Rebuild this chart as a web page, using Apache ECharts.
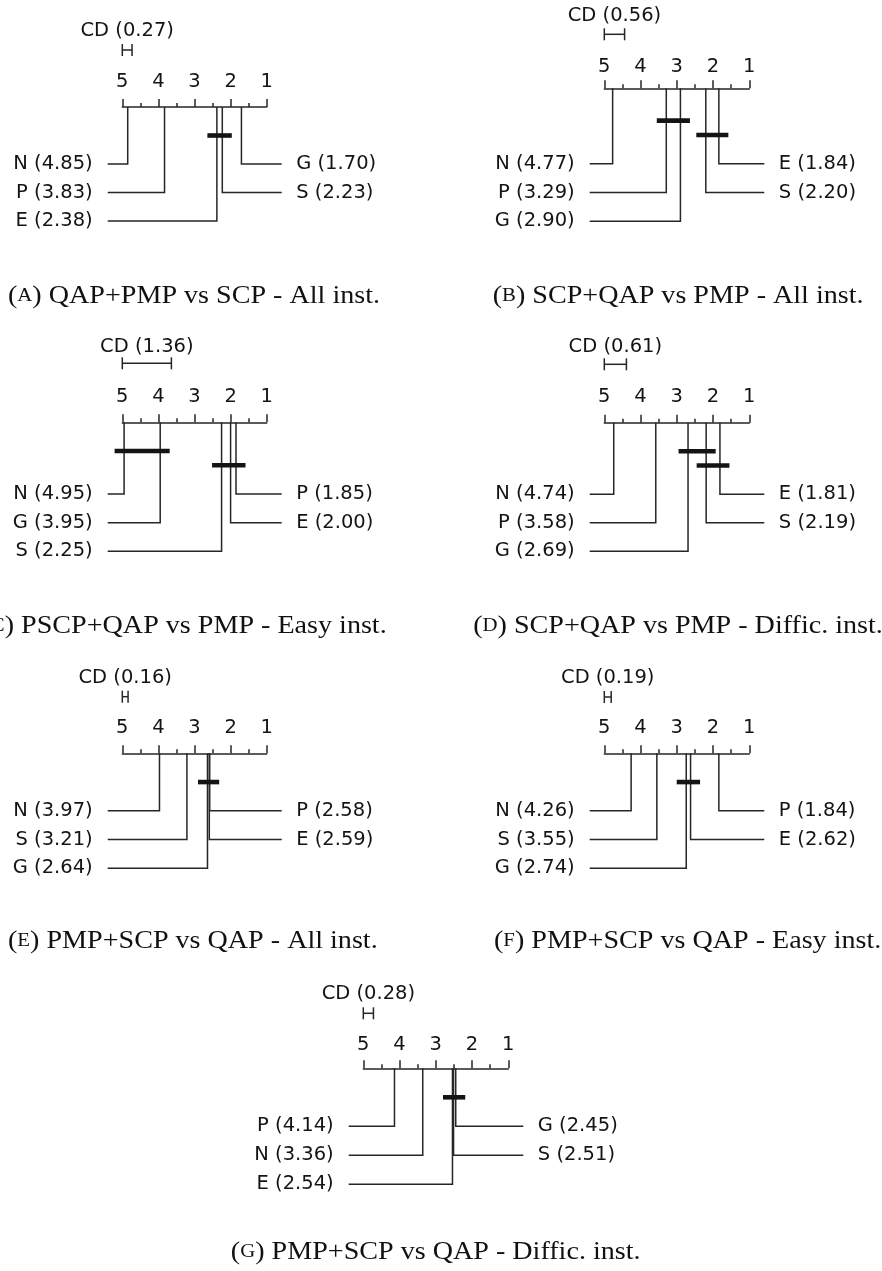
<!DOCTYPE html>
<html>
<head>
<meta charset="utf-8">
<script src="https://cdn.jsdelivr.net/npm/echarts@6/dist/echarts.min.js"></script>
<style>
  html, body { margin: 0; padding: 0; background: #fff; }
  #chart { width: 882px; height: 1271px; }
</style>
</head>
<body>
<div id="chart"></div>
<script>
const rankTicks = [1, 2, 3, 4, 5]

// (a)
const namesA = ["N", "P", "E", "G", "S"]
const ranksA = [4.85, 3.83, 2.38, 1.70, 2.23]
const cdA = 0.27
const cliquesA = [["E", "S"]]

// (b)
const namesB = ["N", "P", "G", "E", "S"]
const ranksB = [4.77, 3.29, 2.90, 1.84, 2.20]
const cdB = 0.56
const cliquesB = [["P", "G"], ["S", "E"]]

// (c)
const namesC = ["N", "G", "S", "P", "E"]
const ranksC = [4.95, 3.95, 2.25, 1.85, 2.00]
const cdC = 1.36
const cliquesC = [["N", "G"], ["S", "E", "P"]]

// (d)
const namesD = ["N", "P", "G", "E", "S"]
const ranksD = [4.74, 3.58, 2.69, 1.81, 2.19]
const cdD = 0.61
const cliquesD = [["G", "S"], ["S", "E"]]

// (e)
const namesE = ["N", "S", "G", "P", "E"]
const ranksE = [3.97, 3.21, 2.64, 2.58, 2.59]
const cdE = 0.16
const cliquesE = [["G", "E", "P"]]

// (f)
const namesF = ["N", "S", "G", "P", "E"]
const ranksF = [4.26, 3.55, 2.74, 1.84, 2.62]
const cdF = 0.19
const cliquesF = [["G", "E"]]

// (g)
const namesG = ["P", "N", "E", "G", "S"]
const ranksG = [4.14, 3.36, 2.54, 2.45, 2.51]
const cdG = 0.28
const cliquesG = [["E", "S", "G"]]

const captionLetters = ["A", "B", "C", "D", "E", "F", "G"]
const captionTexts = [
  "QAP+PMP vs SCP - All inst.",
  "SCP+QAP vs PMP - All inst.",
  "PSCP+QAP vs PMP - Easy inst.",
  "SCP+QAP vs PMP - Diffic. inst.",
  "PMP+SCP vs QAP - All inst.",
  "PMP+SCP vs QAP - Easy inst.",
  "PMP+SCP vs QAP - Diffic. inst.",
]

const panelsData = [
  { names: namesA, ranks: ranksA, cd: cdA, cliques: cliquesA },
  { names: namesB, ranks: ranksB, cd: cdB, cliques: cliquesB },
  { names: namesC, ranks: ranksC, cd: cdC, cliques: cliquesC },
  { names: namesD, ranks: ranksD, cd: cdD, cliques: cliquesD },
  { names: namesE, ranks: ranksE, cd: cdE, cliques: cliquesE },
  { names: namesF, ranks: ranksF, cd: cdF, cliques: cliquesF },
  { names: namesG, ranks: ranksG, cd: cdG, cliques: cliquesG },
]

// pixel layout of every small diagram (x of rank 5 / rank 1, axis line, last row)
const layout = [
  { x5: 122.3, x1: 266.7, axisY: 107, lastY: 221, axisLevel: -4, tickOff: 25, cdBarOff: 57, cdTextOff: 76, capX: 8, capY: 296, capAlign: "left" },
  { x5: 604.3, x1: 749.3, axisY: 88.3, lastY: 221.3, axisLevel: -5.25, tickOff: 21.3, cdBarOff: 54, cdTextOff: 72.3, capX: 492.7, capY: 296, capAlign: "left" },
  { x5: 122.3, x1: 266.7, axisY: 422.3, lastY: 551.3, axisLevel: -5, tickOff: 25, cdBarOff: 59, cdTextOff: 75.6, capX: 386.7, capY: 626, capAlign: "right" },
  { x5: 604.3, x1: 749.3, axisY: 422.7, lastY: 551.3, axisLevel: -5, tickOff: 25.4, cdBarOff: 58.4, cdTextOff: 76, capX: 678, capY: 626, capAlign: "center" },
  { x5: 122.3, x1: 266.7, axisY: 753.3, lastY: 868.3, axisLevel: -4, tickOff: 25, cdBarOff: 56.6, cdTextOff: 75.6, capX: 8, capY: 941, capAlign: "left" },
  { x5: 604.3, x1: 749.3, axisY: 753.3, lastY: 868.3, axisLevel: -4, tickOff: 25, cdBarOff: 56.3, cdTextOff: 75.6, capX: 494, capY: 941, capAlign: "left" },
  { x5: 363.3, x1: 508.3, axisY: 1068.3, lastY: 1184.3, axisLevel: -4, tickOff: 23.3, cdBarOff: 55, cdTextOff: 74, capX: 435.7, capY: 1252, capAlign: "center" },
]

const rankMin = rankTicks[0]
const rankMax = rankTicks[rankTicks.length - 1]
const ink = "#141414"
const lineInk = "#262626"
const lineW = 1.5
const sansFont = "DejaVu Sans"
const labelSize = 19.5
const serifFont = "Liberation Serif"
const capSize = 25
const capSmall = 18.5

// stretch the serif caption to the width of the LaTeX caption
const ctx = document.createElement("canvas").getContext("2d")
ctx.font = capSize + 'px "' + serifFont + '"'
let capWidth = ctx.measureText("(").width + ctx.measureText(") " + captionTexts[0]).width
ctx.font = capSmall + 'px "' + serifFont + '"'
capWidth += ctx.measureText(captionLetters[0]).width
const capScale = 372 / capWidth

const grids = []
const xAxes = []
const yAxes = []
const series = []

panelsData.forEach((panel, i) => {
  const lay = layout[i]
  grids.push({
    left: lay.x5,
    top: lay.axisY,
    width: lay.x1 - lay.x5,
    height: lay.lastY - lay.axisY,
  })
  xAxes.push({
    gridIndex: i,
    type: "value",
    min: rankMin,
    max: rankMax,
    interval: 1,
    inverse: true,
    position: "top",
    axisLine: { show: true, onZero: false, lineStyle: { color: lineInk, width: lineW } },
    axisTick: { show: true, length: 8, lineStyle: { color: lineInk, width: lineW } },
    minorTick: { show: true, splitNumber: 2, length: 4, lineStyle: { color: lineInk, width: lineW } },
    axisLabel: {
      show: true,
      margin: lay.tickOff - labelSize / 2,
      fontSize: labelSize,
      fontFamily: sansFont,
      color: ink,
    },
    splitLine: { show: false },
    minorSplitLine: { show: false },
  })
  yAxes.push({
    gridIndex: i,
    type: "value",
    min: lay.axisLevel,
    max: 4,
    inverse: true,
    show: false,
  })

  // left half: worst ranks, right half: best ranks (best on top)
  const order = panel.names.map((n, k) => k).sort((a, b) => panel.ranks[b] - panel.ranks[a])
  const nLeft = Math.ceil(order.length / 2)
  const methodData = order.map((k, pos) => {
    const left = pos < nLeft
    const row = left ? pos : order.length - 1 - pos
    return [panel.ranks[k], row * 2, left ? 0 : 1, k]
  })

  series.push({
    type: "custom",
    xAxisIndex: i,
    yAxisIndex: i,
    clip: false,
    silent: true,
    data: methodData,
    renderItem: (params, api) => {
      const rank = api.value(0)
      const level = api.value(1)
      const side = api.value(2)
      const k = api.value(3)
      const top = api.coord([rank, lay.axisLevel])
      const bend = api.coord([rank, level])
      const edge = side === 0
        ? api.coord([rankMax, level])[0] - 14.6
        : api.coord([rankMin, level])[0] + 15
      return {
        type: "group",
        children: [
          {
            type: "polyline",
            shape: { points: [top, bend, [edge, bend[1]]] },
            style: { stroke: lineInk, lineWidth: lineW, fill: null },
          },
          {
            type: "text",
            x: side === 0 ? edge - 15 : edge + 14.5,
            y: bend[1],
            style: {
              text: panel.names[k] + " (" + panel.ranks[k].toFixed(2) + ")",
              fontSize: labelSize,
              fontFamily: sansFont,
              fill: ink,
              align: side === 0 ? "right" : "left",
              verticalAlign: "middle",
            },
          },
        ],
      }
    },
  })

  const cliqueData = panel.cliques.map((members, j) => {
    const vals = members.map((m) => panel.ranks[panel.names.indexOf(m)])
    return [Math.max(...vals), -(1 + panel.cliques.length - j), Math.min(...vals)]
  })

  series.push({
    type: "custom",
    xAxisIndex: i,
    yAxisIndex: i,
    clip: false,
    silent: true,
    data: cliqueData,
    renderItem: (params, api) => {
      const a = api.coord([api.value(0), api.value(1)])
      const b = api.coord([api.value(2), api.value(1)])
      return {
        type: "rect",
        shape: { x: a[0] - 9.5, y: a[1] - 2.3, width: b[0] - a[0] + 19, height: 4.6 },
        style: { fill: ink },
      }
    },
  })

  series.push({
    type: "custom",
    xAxisIndex: i,
    yAxisIndex: i,
    clip: false,
    silent: true,
    data: [[rankMax - panel.cd, lay.axisLevel, panel.cd]],
    renderItem: (params, api) => {
      const a = api.coord([rankMax, api.value(1)])
      const b = api.coord([api.value(0), api.value(1)])
      const y = a[1] - lay.cdBarOff
      const lineStyle = { stroke: lineInk, lineWidth: lineW }
      return {
        type: "group",
        children: [
          { type: "line", shape: { x1: a[0], y1: y, x2: b[0], y2: y }, style: lineStyle },
          { type: "line", shape: { x1: a[0], y1: y - 6, x2: a[0], y2: y + 6 }, style: lineStyle },
          { type: "line", shape: { x1: b[0], y1: y - 6, x2: b[0], y2: y + 6 }, style: lineStyle },
          {
            type: "text",
            x: (a[0] + b[0]) / 2,
            y: a[1] - lay.cdTextOff,
            style: {
              text: "CD (" + api.value(2).toFixed(2) + ")",
              fontSize: labelSize,
              fontFamily: sansFont,
              fill: ink,
              align: "center",
              verticalAlign: "middle",
            },
          },
        ],
      }
    },
  })
})

const captions = captionTexts.map((text, i) => {
  const lay = layout[i]
  return {
    type: "text",
    x: lay.capX,
    y: lay.capY,
    scaleX: capScale,
    silent: true,
    style: {
      text: "{p|(}{s|" + captionLetters[i] + "}{p|) " + text + "}",
      fill: "#111",
      align: lay.capAlign,
      verticalAlign: "middle",
      rich: {
        p: { fontSize: capSize, fontFamily: serifFont, fill: "#111" },
        s: { fontSize: capSmall, fontFamily: serifFont, fill: "#111" },
      },
    },
  }
})

const chart = echarts.init(document.getElementById("chart"))
chart.setOption({
  animation: false,
  backgroundColor: "#fff",
  grid: grids,
  xAxis: xAxes,
  yAxis: yAxes,
  series: series,
  graphic: captions,
})
</script>
</body>
</html>
